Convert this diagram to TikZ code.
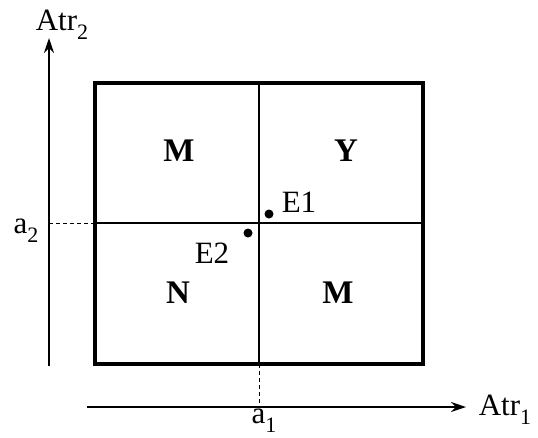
\documentclass[tikz,border=0pt]{standalone}
\usepackage{fontspec}
\setmainfont{Liberation Serif}
\usetikzlibrary{arrows.meta}
\newcommand{\sbx}[1]{\raisebox{-0.28em}{\fontsize{22}{22}\selectfont #1}}
\begin{document}
\begin{tikzpicture}[x=1pt,y=-1pt,
  lbl/.style={font=\fontsize{31}{31}\selectfont, inner sep=0pt},
  cell/.style={font=\fontsize{33}{33}\selectfont\bfseries, inner sep=0pt},
  axis/.style={line width=1.6pt, -{Stealth[length=15pt,width=10pt]}},
  frame/.style={line width=3.6pt},
  divider/.style={line width=2.3pt},
  guide/.style={line width=1pt, dash pattern=on 4pt off 3pt},
  dot/.style={circle, fill=black, inner sep=0pt, minimum size=9pt}]
\useasboundingbox (0,0) rectangle (538,437);
% axes
\coordinate (yb) at (49,366);
\coordinate (yt) at (49,38);
\coordinate (xl) at (87,407);
\coordinate (xr) at (466,407);
\draw[axis] (yb) -- (yt);
\draw[axis] (xl) -- (xr);
\node[lbl] (atr2) at (62,25) {Atr\sbx{2}};
\node[lbl] (atr1) at (505,410) {Atr\sbx{1}};
% box
\coordinate (bl) at (95,364);
\coordinate (tr) at (423,83);
\coordinate (mt) at (259,83);
\coordinate (mb) at (259,364);
\coordinate (ml) at (95,223);
\coordinate (mr) at (423,223);
\draw[divider] (mt) -- (mb);
\draw[divider] (ml) -- (mr);
\draw[frame] (bl) rectangle (tr);
% guides
\coordinate (a2y) at (49,223);
\coordinate (a1x) at (259,407);
\draw[guide] (a2y) -- (ml);
\draw[guide] (mb) -- (a1x);
\node[lbl] (a2) at (26,231) {a\sbx{2}};
\node[lbl] (a1) at (264,421) {a\sbx{1}};
% cell labels
\node[cell] (c1) at (179,151) {M};
\node[cell] (c2) at (346,151) {Y};
\node[cell] (c3) at (178,293) {N};
\node[cell] (c4) at (338,293) {M};
% points
\node[dot] (e1) at (269,214) {};
\node[dot] (e2) at (248,233) {};
\node[lbl] (e1l) at (299,202) {E1};
\node[lbl] (e2l) at (212,253) {E2};
\end{tikzpicture}
\end{document}
